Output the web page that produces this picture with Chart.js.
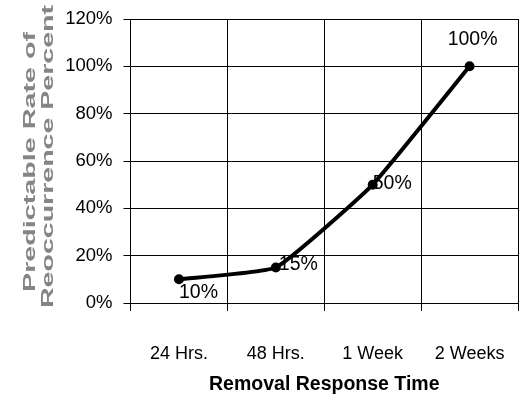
<!DOCTYPE html>
<html>
<head>
<meta charset="utf-8">
<script src="https://cdn.jsdelivr.net/npm/chart.js@4/dist/chart.umd.min.js"></script>
<style>
html,body{margin:0;padding:0;background:#fff;}
#wrap{width:526px;height:402px;}
</style>
</head>
<body>
<div id="wrap"><canvas id="c" width="526" height="402"></canvas></div>
<script>
const categories = ['24 Hrs.', '48 Hrs.', '1 Week', '2 Weeks'];
const reoccurrence = [10, 15, 50, 100];
const yTitleLines = ['Predictable Rate of', 'Reoccurrence Percent'];
const xTitle = 'Removal Response Time';

const FONT = '"Liberation Sans", Arial, sans-serif';

const labelPlugin = {
  id: 'pointLabels',
  afterDatasetsDraw(chart) {
    const ctx = chart.ctx;
    const meta = chart.getDatasetMeta(0);
    const place = [
      {dx: 0, dy: 13, align: 'left'},
      {dx: 3, dy: -3, align: 'left'},
      {dx: 0, dy: -1, align: 'left'},
      {dx: 3, dy: -27, align: 'center'}
    ];
    ctx.save();
    ctx.font = '19.5px ' + FONT;
    ctx.fillStyle = '#000';
    ctx.textBaseline = 'middle';
    meta.data.forEach((pt, i) => {
      const p = place[i];
      ctx.textAlign = p.align;
      ctx.fillText(reoccurrence[i] + '%', pt.x + p.dx, pt.y + p.dy);
    });
    ctx.restore();
  }
};

const yTitlePlugin = {
  id: 'yTitle',
  afterDraw(chart) {
    const ctx = chart.ctx;
    const spec = [
      {x: 35, y: 292, len: 260},
      {x: 53, y: 308, len: 303}
    ];
    ctx.save();
    ctx.font = 'bold 16px ' + FONT;
    ctx.fillStyle = '#858585';
    ctx.textBaseline = 'alphabetic';
    ctx.textAlign = 'left';
    yTitleLines.forEach((t, i) => {
      const s = spec[i];
      const w = ctx.measureText(t).width;
      ctx.save();
      ctx.translate(s.x, s.y);
      ctx.rotate(-Math.PI / 2);
      ctx.scale(s.len / w, 1);
      ctx.fillText(t, 0, 0);
      ctx.restore();
    });
    ctx.restore();
  }
};

new Chart(document.getElementById('c'), {
  type: 'line',
  data: {
    labels: categories,
    datasets: [{
      data: reoccurrence,
      borderColor: '#000',
      backgroundColor: '#000',
      borderWidth: 4,
      tension: 0.12,
      pointRadius: 3,
      pointBackgroundColor: '#000',
      pointBorderColor: '#000',
      fill: false
    }]
  },
  options: {
    responsive: false,
    animation: false,
    devicePixelRatio: 1,
    layout: {padding: {top: 19, right: 6, left: 0, bottom: 0}},
    plugins: {legend: {display: false}, tooltip: {enabled: false}},
    scales: {
      x: {
        offset: true,
        grid: {offset: true, color: '#000', lineWidth: 1, tickLength: 8, drawTicks: true},
        border: {color: '#000', width: 1},
        ticks: {color: '#000', font: {family: FONT, size: 18}, padding: 32, maxRotation: 0},
        title: {display: true, text: xTitle, color: '#000', font: {family: FONT, size: 19.5, weight: 'bold'}, padding: {top: 0, bottom: 6}},
        afterFit(scale) { scale.height = 99; scale.paddingLeft = 0; scale.paddingRight = 0; }
      },
      y: {
        min: 0, max: 120,
        grid: {color: '#000', lineWidth: 1, tickLength: 7},
        border: {color: '#000', width: 1},
        ticks: {stepSize: 20, color: '#000', font: {family: FONT, size: 18.5}, padding: 11,
          callback: v => v + '%'},
        afterFit(scale) { scale.width = 130.5; scale.paddingTop = 0; scale.paddingBottom = 0; }
      }
    }
  },
  plugins: [labelPlugin, yTitlePlugin]
});
</script>
</body>
</html>
